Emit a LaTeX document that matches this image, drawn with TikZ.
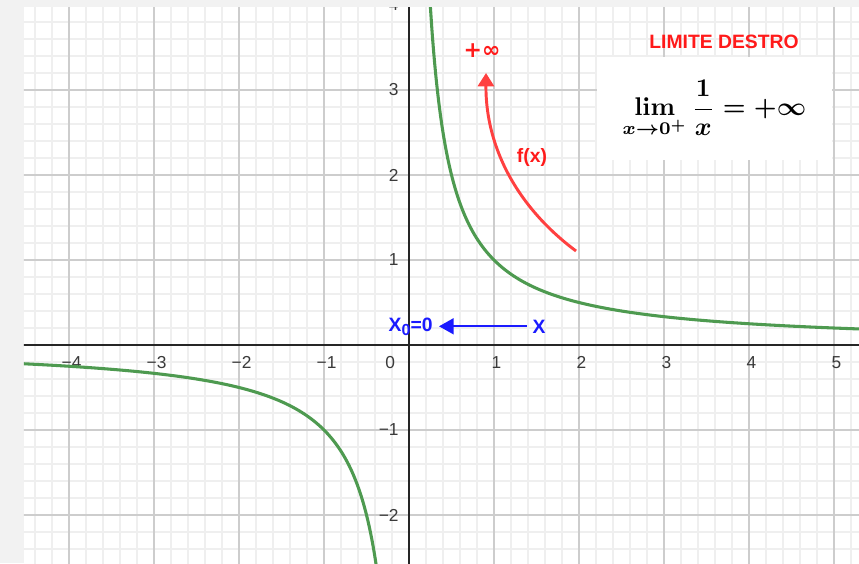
\documentclass[tikz,border=0pt]{standalone}
\usepackage[no-math]{fontspec}
\usepackage{graphicx}
\newfontfamily\labfont{Liberation Sans}
\newfontfamily\symfont{DejaVu Sans}
\usetikzlibrary{arrows.meta}
\definecolor{bggray}{HTML}{F2F2F2}
\definecolor{majcol}{HTML}{CDCDCD}
\definecolor{mincol}{HTML}{EFEFEF}
\definecolor{axcol}{HTML}{262626}
\definecolor{tickcol}{HTML}{3A3A3A}
\definecolor{curvecol}{HTML}{4E9A50}
\definecolor{redtxt}{HTML}{FF1A1A}
\definecolor{redarr}{HTML}{FF4040}
\definecolor{bluecol}{HTML}{1A1AFF}
\tikzset{
  minorgrid/.style={mincol, line width=1pt},
  majorgrid/.style={majcol, line width=1.1pt},
  axisline/.style={axcol, line width=1.1pt},
  fcurve/.style={curvecol, line width=2.3pt},
  ticklab/.style={font=\labfont\fontsize{13}{15}\selectfont, text=tickcol, inner sep=0pt},
  redlab/.style={font=\labfont\bfseries\fontsize{14.5}{16}\selectfont, text=redtxt, inner sep=0pt},
  bluelab/.style={font=\labfont\bfseries\fontsize{14.5}{16}\selectfont, text=bluecol, inner sep=0pt},
  formbox/.style={fill=white, draw=none, inner sep=0pt},
}
\begin{document}
\begin{tikzpicture}[x=63.75pt,y=63.75pt]
\useasboundingbox (-4.812,-2.565) rectangle (5.294,4.059);
\fill[bggray] (-4.812,-2.565) rectangle (5.294,4.059);
\fill[white] (-4.53,-2.565) rectangle (5.294,3.976);
\begin{scope}
\clip (-4.53,-2.565) rectangle (5.294,3.976);
\draw[minorgrid] (-4.6,-2.6) grid[step=0.2] (5.4,4.2);
\draw[majorgrid] (-5,-3) grid[step=1] (6,5);
% axes
\draw[axisline] (-4.6,0) -- (5.4,0);
\draw[axisline] (0,-2.7) -- (0,4.1);
% tick labels x
\foreach \n/\t in {-4/{−4},-3/{−3},-2/{−2},-1/{−1},1/1,2/2,3/3,4/4,5/5}
  \node[ticklab] (tx\n) at (\n+0.03,-0.21) {\t};
\node[ticklab] (tx0) at (-0.22,-0.21) {0};
% tick labels y
\foreach \n/\t in {-2/{−2},-1/{−1},1/1,2/2,3/3,4/4}
  \node[ticklab, anchor=east] (ty\n) at (-0.12,\n) {\t};
% curve
\draw[fcurve, domain=0.2495:5.4, samples=250, smooth] plot (\x,{1/\x});
\draw[fcurve, domain=-4.6:-0.385, samples=250, smooth] plot (\x,{1/\x});
\end{scope}
% formula box
\node[formbox, minimum width=176pt, minimum height=77pt] (lim) at (3.594,2.782)
  {\scalebox{1.92}{\mathversion{bold}$\displaystyle\lim_{x\to0^+}\frac{1}{x}=+\infty$}};
\node[redlab] (title) at (3.706,3.565) {LIMITE DESTRO};
% red arrow
\coordinate (rs) at (1.965,1.106);
\coordinate (re) at (0.906,3.2);
\draw[redarr, line width=2.2pt, -{Triangle[length=10pt,width=12pt]}]
  (rs) .. controls (1.3,1.6) and (0.9,2.3) .. (re);
\node[redlab, font=\symfont\bfseries\fontsize{16.5}{18}\selectfont] (inf) at (0.86,3.46) {+∞};
\node[redlab] (fx) at (1.447,2.21) {f(x)};
% blue arrow
\node[bluelab] (xlab) at (1.53,0.21) {X};
\node[bluelab, anchor=east] (x0) at (0.28,0.21)
  {X\raisebox{-0.4ex}{\fontsize{12}{13}\selectfont 0}=0};
\coordinate (bt) at (1.388,0.22);
\coordinate (bh) at (0.353,0.22);
\draw[bluecol, line width=1.3pt, -{Triangle[length=11pt,width=12pt]}] (bt) -- (bh);
\end{tikzpicture}
\end{document}
